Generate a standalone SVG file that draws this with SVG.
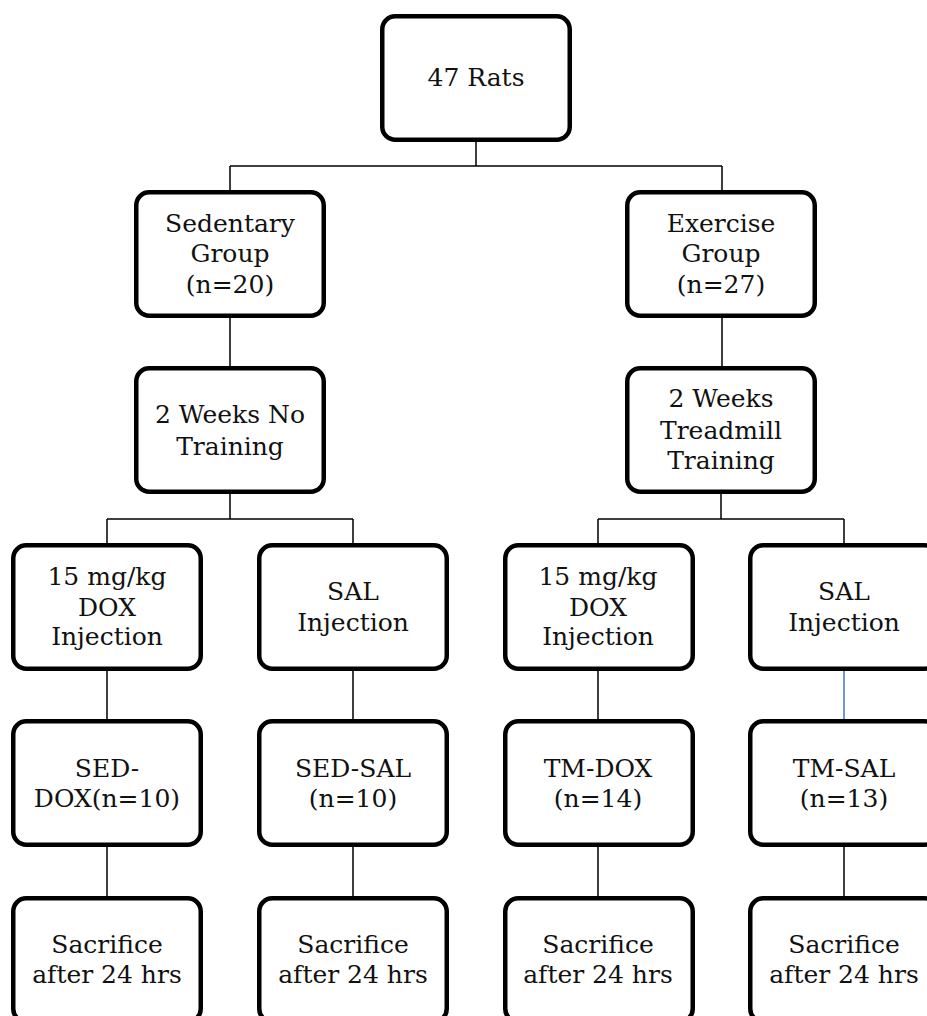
<svg xmlns="http://www.w3.org/2000/svg" width="927" height="1016" viewBox="0 0 927 1016">
<style>
.box{fill:#fff;stroke:#000;stroke-width:4.5}
.ln{stroke:#000;stroke-width:1.5;fill:none}
.blue{stroke:#4472C4;stroke-width:1.5;fill:none}
text{font-family:"DejaVu Serif","Liberation Serif",serif;font-size:25px;fill:#111;text-anchor:middle}
</style>
<rect width="927" height="1016" fill="#fff"/>
<g id="connectors">
<path class="ln" d="M476 142V166M230 166H722M230 166V190M722 166V190"/>
<path class="ln" d="M230 318V366M722 318V366"/>
<path class="ln" d="M230 494V519M107 519H353M107 519V543M353 519V543"/>
<path class="ln" d="M721 494V519M598 519H844M598 519V543M844 519V543"/>
<path class="ln" d="M107 671V719M353 671V719M598 671V719"/>
<path class="blue" d="M844 671V719"/>
<path class="ln" d="M107 847V896M353 847V896M598 847V896M844 847V896"/>
</g>
<g id="rats"><rect class="box" x="382.25" y="16.25" width="187.5" height="123.5" rx="13"/><text x="476" y="86">47 Rats</text></g>
<g id="sedentary"><rect class="box" x="136.25" y="192.25" width="187.5" height="123.5" rx="13"/><text x="230" y="232">Sedentary</text><text x="230" y="262">Group</text><text x="230" y="293">(n=20)</text></g>
<g id="exercise"><rect class="box" x="627.25" y="192.25" width="187.5" height="123.5" rx="13"/><text x="721" y="232">Exercise</text><text x="721" y="262">Group</text><text x="721" y="293">(n=27)</text></g>
<g id="notraining"><rect class="box" x="136.25" y="368.25" width="187.5" height="123.5" rx="13"/><text x="230" y="423">2 Weeks No</text><text x="230" y="455">Training</text></g>
<g id="treadmill"><rect class="box" x="627.25" y="368.25" width="187.5" height="123.5" rx="13"/><text x="721" y="407">2 Weeks</text><text x="721" y="439">Treadmill</text><text x="721" y="469">Training</text></g>
<g id="sed-dox-inj"><rect class="box" x="13.25" y="545.25" width="187.5" height="123.5" rx="13"/><text x="107" y="585">15 mg/kg</text><text x="107" y="616">DOX</text><text x="107" y="645">Injection</text></g>
<g id="sed-sal-inj"><rect class="box" x="259.25" y="545.25" width="187.5" height="123.5" rx="13"/><text x="353" y="600">SAL</text><text x="353" y="631">Injection</text></g>
<g id="tm-dox-inj"><rect class="box" x="505.25" y="545.25" width="187.5" height="123.5" rx="13"/><text x="598" y="585">15 mg/kg</text><text x="598" y="616">DOX</text><text x="598" y="645">Injection</text></g>
<g id="tm-sal-inj"><rect class="box" x="750.25" y="545.25" width="187.5" height="123.5" rx="13"/><text x="844" y="600">SAL</text><text x="844" y="631">Injection</text></g>
<g id="sed-dox"><rect class="box" x="13.25" y="721.25" width="187.5" height="123.5" rx="13"/><text x="107" y="777">SED-</text><text x="107" y="807">DOX(n=10)</text></g>
<g id="sed-sal"><rect class="box" x="259.25" y="721.25" width="187.5" height="123.5" rx="13"/><text x="353" y="777">SED-SAL</text><text x="353" y="807">(n=10)</text></g>
<g id="tm-dox"><rect class="box" x="505.25" y="721.25" width="187.5" height="123.5" rx="13"/><text x="598" y="777">TM-DOX</text><text x="598" y="807">(n=14)</text></g>
<g id="tm-sal"><rect class="box" x="750.25" y="721.25" width="187.5" height="123.5" rx="13"/><text x="844" y="777">TM-SAL</text><text x="844" y="807">(n=13)</text></g>
<g id="sac1"><rect class="box" x="13.25" y="898.25" width="187.5" height="123.5" rx="13"/><text x="107" y="953">Sacrifice</text><text x="107" y="983">after 24 hrs</text></g>
<g id="sac2"><rect class="box" x="259.25" y="898.25" width="187.5" height="123.5" rx="13"/><text x="353" y="953">Sacrifice</text><text x="353" y="983">after 24 hrs</text></g>
<g id="sac3"><rect class="box" x="505.25" y="898.25" width="187.5" height="123.5" rx="13"/><text x="598" y="953">Sacrifice</text><text x="598" y="983">after 24 hrs</text></g>
<g id="sac4"><rect class="box" x="750.25" y="898.25" width="187.5" height="123.5" rx="13"/><text x="844" y="953">Sacrifice</text><text x="844" y="983">after 24 hrs</text></g>
</svg>
